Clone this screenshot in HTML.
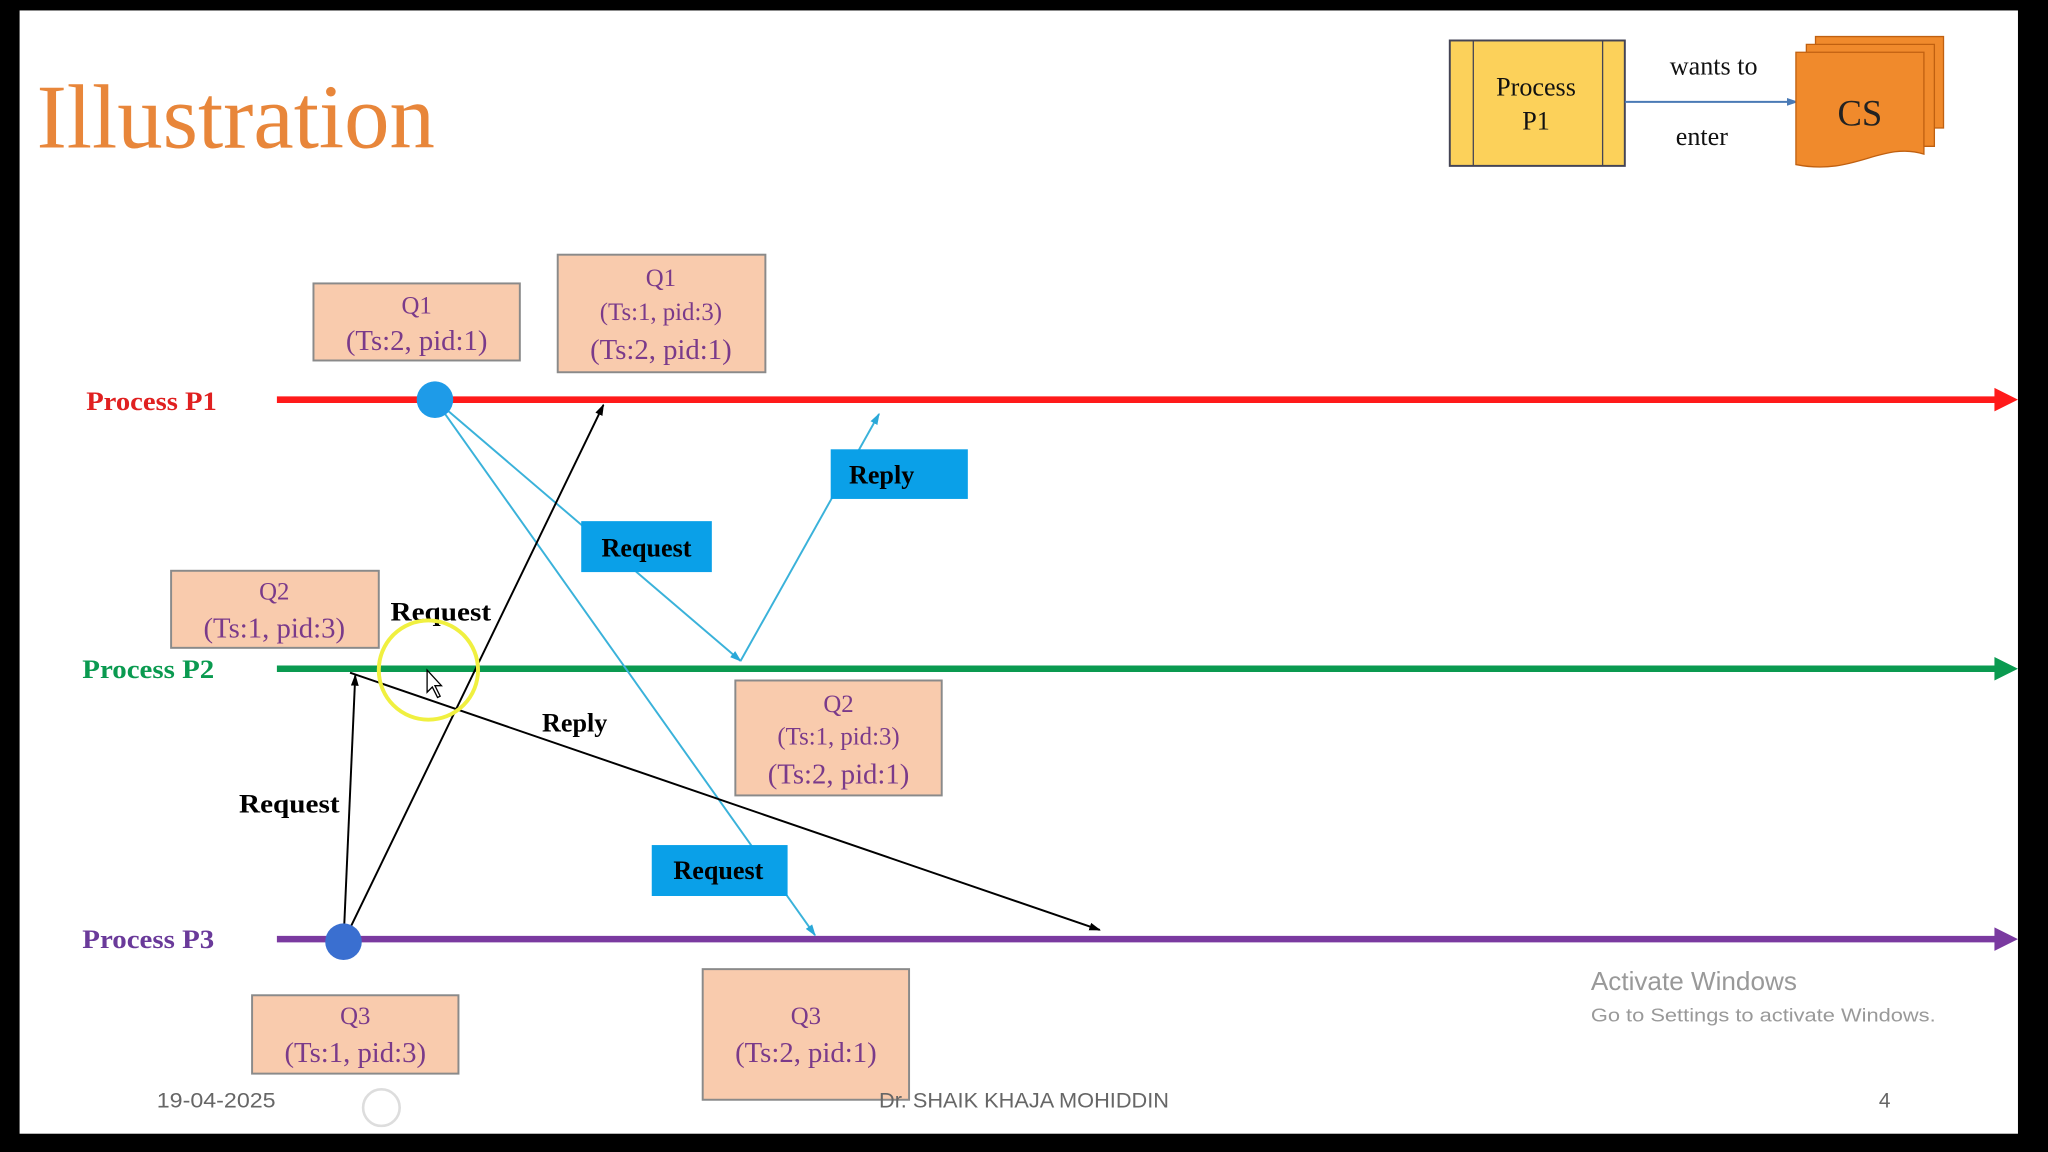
<!DOCTYPE html>
<html><head><meta charset="utf-8"><style>html,body{margin:0;padding:0;background:#000}svg{display:block}</style></head>
<body>
<svg width="2048" height="1152" viewBox="0 0 1568 882" xmlns="http://www.w3.org/2000/svg">
<defs>
<marker id="ab" markerWidth="10" markerHeight="10" refX="8" refY="3" orient="auto" markerUnits="userSpaceOnUse"><path d="M0,0 L9,3 L0,6 z" fill="#000"/></marker>
<marker id="abl" markerWidth="10" markerHeight="10" refX="8" refY="3" orient="auto" markerUnits="userSpaceOnUse"><path d="M0,0 L9,3 L0,6 z" fill="#2aa8d8"/></marker>
<marker id="an" markerWidth="10" markerHeight="10" refX="8" refY="3" orient="auto" markerUnits="userSpaceOnUse"><path d="M0,0 L9,3 L0,6 z" fill="#4a7ab5"/></marker>
</defs>
<rect x="0" y="0" width="1568" height="882" fill="#000"/>
<rect x="15" y="8" width="1530" height="860" fill="#fff"/>
<text x="28" y="113" font-family="Liberation Serif, serif" font-size="70" fill="#e8863a" textLength="305" lengthAdjust="spacingAndGlyphs">Illustration</text>
<rect x="1110" y="31" width="134" height="96" fill="#fcd15a" stroke="#445" stroke-width="1.5"/>
<line x1="1128" y1="31" x2="1128" y2="127" stroke="#445"/><line x1="1227" y1="31" x2="1227" y2="127" stroke="#445"/>
<g font-family="Liberation Serif, serif" font-size="20" fill="#111" text-anchor="middle">
<text x="1176" y="73">Process</text><text x="1176" y="99">P1</text>
<text x="1312" y="57">wants to</text><text x="1303" y="111">enter</text></g>
<line x1="1244" y1="78" x2="1376" y2="78" stroke="#4a7ab5" stroke-width="1.5" marker-end="url(#an)"/>
<path d="M1390,28 H1488 V98 H1390z" fill="#f08a2c" stroke="#c06010"/>
<path d="M1383,34 H1481 V112 H1383z" fill="#f08a2c" stroke="#c06010"/>
<path d="M1375,40 H1473 V118 C1440,108 1420,135 1375,126z" fill="#f08a2c" stroke="#c06010"/>
<text x="1424" y="96" font-family="Liberation Serif, serif" font-size="28" fill="#222" text-anchor="middle">CS</text>
<line x1="212" y1="306" x2="1530" y2="306" stroke="#ff1a1a" stroke-width="5"/><path d="M1527,297 L1545,306 L1527,315z" fill="#ff1a1a"/>
<line x1="212" y1="512" x2="1530" y2="512" stroke="#0a9a50" stroke-width="5"/><path d="M1527,503 L1545,512 L1527,521z" fill="#0a9a50"/>
<line x1="212" y1="719" x2="1530" y2="719" stroke="#7a3aa0" stroke-width="5"/><path d="M1527,710 L1545,719 L1527,728z" fill="#7a3aa0"/>
<g font-family="Liberation Serif, serif" font-size="20" font-weight="bold">
<text x="66" y="314" fill="#e02020" textLength="100" lengthAdjust="spacingAndGlyphs">Process P1</text>
<text x="63" y="519" fill="#0a9a50" textLength="101" lengthAdjust="spacingAndGlyphs">Process P2</text>
<text x="63" y="726" fill="#6a3a9a" textLength="101" lengthAdjust="spacingAndGlyphs">Process P3</text></g>
<g fill="#f9cbad" stroke="#8a8a8a" stroke-width="1.5">
<rect x="240" y="217" width="158" height="59"/><rect x="427" y="195" width="159" height="90"/>
<rect x="131" y="437" width="159" height="59"/><rect x="563" y="521" width="158" height="88"/>
<rect x="193" y="762" width="158" height="60"/><rect x="538" y="742" width="158" height="100"/></g>
<g font-family="Liberation Serif, serif" fill="#7a3a8a" text-anchor="middle">
<text x="319" y="240" font-size="19">Q1</text><text x="319" y="268" font-size="22">(Ts:2, pid:1)</text>
<text x="506" y="219" font-size="19">Q1</text><text x="506" y="245" font-size="19">(Ts:1, pid:3)</text><text x="506" y="275" font-size="22">(Ts:2, pid:1)</text>
<text x="210" y="459" font-size="19">Q2</text><text x="210" y="488" font-size="22">(Ts:1, pid:3)</text>
<text x="642" y="545" font-size="19">Q2</text><text x="642" y="570" font-size="19">(Ts:1, pid:3)</text><text x="642" y="600" font-size="22">(Ts:2, pid:1)</text>
<text x="272" y="784" font-size="19">Q3</text><text x="272" y="813" font-size="22">(Ts:1, pid:3)</text>
<text x="617" y="784" font-size="19">Q3</text><text x="617" y="813" font-size="22">(Ts:2, pid:1)</text></g>
<g stroke="#3ab2da" stroke-width="1.5" fill="none">
<line x1="333" y1="306" x2="567" y2="506" marker-end="url(#abl)"/>
<line x1="333" y1="306" x2="624" y2="716" marker-end="url(#abl)"/>
<line x1="567" y1="506" x2="673" y2="317" marker-end="url(#abl)"/></g>
<g stroke="#000" stroke-width="1.5" fill="none">
<line x1="263" y1="721" x2="462" y2="310" marker-end="url(#ab)"/>
<line x1="263" y1="721" x2="272" y2="517" marker-end="url(#ab)"/>
<line x1="268" y1="515" x2="842" y2="712" marker-end="url(#ab)"/></g>
<g fill="#0aa0e8"><rect x="445" y="399" width="100" height="39"/><rect x="636" y="344" width="105" height="38"/><rect x="499" y="647" width="104" height="39"/></g>
<g font-family="Liberation Serif, serif" font-size="20" font-weight="bold" fill="#000">
<text x="495" y="426" text-anchor="middle">Request</text><text x="675" y="370" text-anchor="middle">Reply</text><text x="550" y="673" text-anchor="middle">Request</text>
<text x="299" y="475" textLength="77" lengthAdjust="spacingAndGlyphs">Request</text><text x="415" y="560">Reply</text><text x="183" y="622" textLength="77" lengthAdjust="spacingAndGlyphs">Request</text></g>
<circle cx="333" cy="306" r="14" fill="#1e9be8"/>
<circle cx="263" cy="721" r="14" fill="#3a6fd0"/>
<circle cx="328" cy="513" r="38" fill="none" stroke="#f0f040" stroke-width="3"/>
<path d="M327,513 L327,530 L331,526 L335,534 L337,533 L333,525 L338,525z" fill="#fff" stroke="#000" stroke-width="1"/>
<g font-family="Liberation Sans, sans-serif" fill="#999">
<text x="1218" y="758" font-size="20">Activate Windows</text>
<text x="1218" y="782" font-size="14" textLength="264" lengthAdjust="spacingAndGlyphs">Go to Settings to activate Windows.</text></g>
<g font-family="Liberation Sans, sans-serif" font-size="16" fill="#666">
<text x="120" y="848" textLength="91" lengthAdjust="spacingAndGlyphs">19-04-2025</text><text x="784" y="848" text-anchor="middle" textLength="222" lengthAdjust="spacingAndGlyphs">Dr. SHAIK KHAJA MOHIDDIN</text><text x="1443" y="848" text-anchor="middle">4</text></g>
<circle cx="292" cy="848" r="14" fill="none" stroke="#ddd" stroke-width="2"/>
</svg>
</body></html>
